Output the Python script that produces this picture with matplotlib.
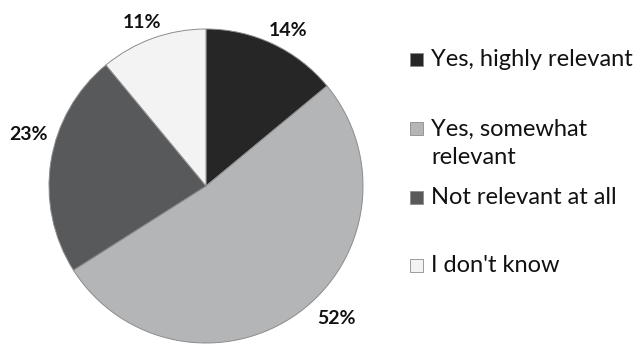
import matplotlib
matplotlib.use("Agg")
import matplotlib.pyplot as plt
from matplotlib.patches import Rectangle

# data
categories = ["Yes, highly relevant", "Yes, somewhat\nrelevant", "Not relevant at all", "I don't know"]
shares = [14, 52, 23, 11]
colors = ["#262626", "#b4b5b7", "#58595b", "#f3f3f3"]

plt.rcParams["font.family"] = ["Lato", "DejaVu Sans"]

W, H = 638, 345
fig = plt.figure(figsize=(W / 100, H / 100), dpi=100)

# pie axes: center ~(206,186) px, radius ~157 px
cx, cy, r = 206, 186, 157
ax = fig.add_axes([(cx - r) / W, (H - cy - r) / H, 2 * r / W, 2 * r / H])
wedges, texts, autotexts = ax.pie(
    shares, colors=colors, startangle=90, counterclock=False,
    autopct="%1.0f%%", pctdistance=1.16, radius=1,
    wedgeprops=dict(edgecolor="#8c8c8c", linewidth=0.7),
    textprops=dict(fontsize=14, fontweight="bold", color="#111111"),
)
# percent labels sit where the original put them (pixel positions)
label_px = [(288, 31), (336, 319), (28, 135), (142, 23)]
for t, (px, py) in zip(autotexts, label_px):
    t.set_position(((px - cx) / r, (cy - py) / r))
    t.set_ha("center")
    t.set_va("center")
ax.set_xlim(-1, 1)
ax.set_ylim(-1, 1)
ax.set_aspect("auto")
ax.axis("off")

# legend drawn by hand (uneven spacing like the original)
legend_y = [59, 128, 197, 265]
sq = 13
for lab, col, y in zip(categories, colors, legend_y):
    fig.patches.append(Rectangle((410 / W, (H - y - sq / 2) / H), sq / W, sq / H,
                                 transform=fig.transFigure, facecolor=col,
                                 edgecolor="#8c8c8c", linewidth=0.6))
    if "\n" in lab:
        fig.text(431 / W, (H - y + 9) / H, lab, fontsize=17, color="#111111",
                 va="top", ha="left", linespacing=1.42, transform=fig.transFigure)
    else:
        fig.text(431 / W, (H - y) / H, lab, fontsize=17, color="#111111",
                 va="center", ha="left", transform=fig.transFigure)

fig.savefig("out.png", dpi=100)
